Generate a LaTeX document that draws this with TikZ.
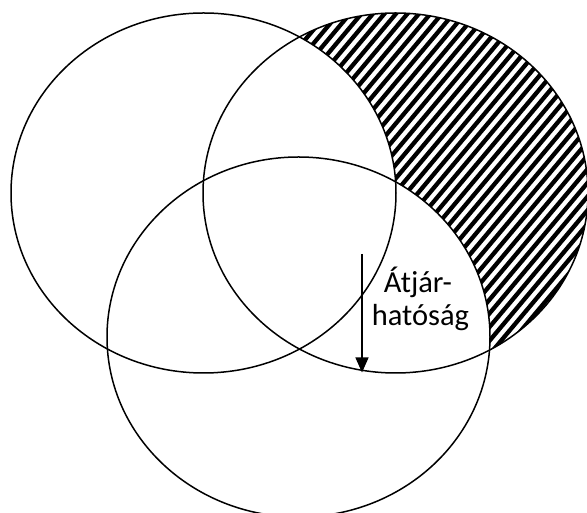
\documentclass[tikz,border=0pt]{standalone}
\usepackage{fontspec}
\setmainfont{Carlito}
\usetikzlibrary{arrows.meta}
\begin{document}
\begin{tikzpicture}[x=1pt,y=1pt,
  venn/.style={line width=1.5pt, draw=black},
  hatchline/.style={line width=4.3pt, draw=black},
  arrowline/.style={line width=1.4pt, draw=black, -{Triangle[length=15pt,width=13pt]}},
  lbl/.style={font=\fontsize{30.5}{36}\selectfont, inner sep=0pt, anchor=base}]
\fill[white] (0,0) rectangle (587,513);
\useasboundingbox (0,0) rectangle (587,513);
% hatch in right circle
\begin{scope}
  \clip (395.5,320) ellipse [x radius=192.5pt, y radius=180pt];
  \foreach \i in {-45,...,56} \draw[hatchline] (\i*11.5,0) -- ++(50:800pt);
\end{scope}
\fill[white] (203.5,320) ellipse [x radius=192.5pt, y radius=180pt];
\fill[white] (298.5,176) ellipse [x radius=191.5pt, y radius=180pt];
% outlines
\draw[venn] (203.5,320) ellipse [x radius=192.5pt, y radius=180pt];
\draw[venn] (395.5,320) ellipse [x radius=192.5pt, y radius=180pt];
\draw[venn] (298.5,176) ellipse [x radius=191.5pt, y radius=180pt];
% arrow and label
\coordinate (atop) at (362,259);
\coordinate (abot) at (362,140.5);
\draw[arrowline] (atop) -- (abot);
\node[lbl] (l1) at (418,220) {Átjár-};
\node[lbl] (l2) at (420.5,187) {hatóság};
\end{tikzpicture}
\end{document}
